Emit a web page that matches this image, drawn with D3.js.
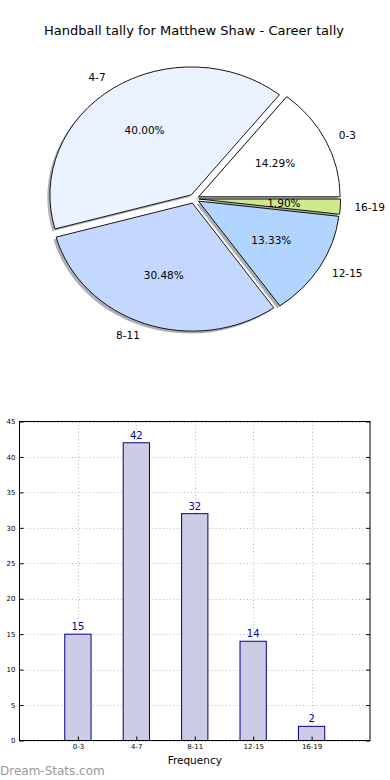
<!DOCTYPE html>
<html><head><meta charset="utf-8">
<script src="https://cdn.jsdelivr.net/npm/d3@7"></script>
<style>
body{margin:0;background:#fff;}
svg{display:block;font-family:"DejaVu Sans",sans-serif;}
</style></head><body>
<svg id="c" width="390" height="780"></svg>
<script>
const categories = ["0-3","4-7","8-11","12-15","16-19"];
const values = [15,42,32,14,2];
const pieColors = ["#ffffff","#eaf1ff","#c4d8ff","#b2d5ff","#cde98a"];
const yTicks = [0,5,10,15,20,25,30,35,40,45];
const title = "Handball tally for Matthew Shaw - Career tally";
const xLabel = "Frequency";
const watermark = "Dream-Stats.com";

const svg = d3.select("#c");
svg.append("rect").attr("width",390).attr("height",780).attr("fill","#fff");

svg.append("text").attr("x",194).attr("y",34.5).attr("text-anchor","middle")
  .attr("font-size",13).attr("fill","#000").text(title);

// ---- Pie ----
const cx = 194.1, cy = 198.75, rx = 141.4, ry = 128;
const explode = 0.036;
const total = d3.sum(values);
const pie = d3.pie().sort(null).startAngle(Math.PI/2).endAngle(Math.PI/2 - 2*Math.PI);
const arcs = pie(values);
const arc = d3.arc().innerRadius(0).outerRadius(1);
function mid(d){ const a=(d.startAngle+d.endAngle)/2; return {x:Math.sin(a), y:-Math.cos(a)}; }
function center(d){ const m=mid(d); return {x:cx+explode*rx*m.x, y:cy+explode*ry*m.y}; }

const shadowG = svg.append("g");
arcs.forEach((d,i)=>{
  const c = center(d);
  const col = d3.rgb(pieColors[i]);
  shadowG.append("path")
    .attr("transform",`translate(${c.x-2.6},${c.y+2.4}) scale(${rx},${ry})`)
    .attr("d",arc(d))
    .attr("fill",d3.rgb(col.r*0.3,col.g*0.3,col.b*0.3))
    .attr("fill-opacity",0.42);
});
const wedgeG = svg.append("g");
arcs.forEach((d,i)=>{
  const c = center(d);
  wedgeG.append("path")
    .attr("transform",`translate(${c.x},${c.y}) scale(${rx},${ry})`)
    .attr("d",arc(d))
    .attr("fill",pieColors[i])
    .attr("stroke","#000").attr("stroke-width",0.9)
    .attr("vector-effect","non-scaling-stroke");
});
arcs.forEach((d,i)=>{
  const c = center(d), m = mid(d);
  const lx = c.x + 1.1*rx*m.x, ly = c.y + 1.1*ry*m.y;
  svg.append("text").attr("x",lx).attr("y",ly).attr("dy","0.35em")
    .attr("text-anchor", m.x>0 ? "start":"end")
    .attr("font-size",10.5).attr("fill","#000").text(categories[i]);
  const px = c.x + 0.6*rx*m.x, py = c.y + 0.6*ry*m.y;
  svg.append("text").attr("x",px).attr("y",py).attr("dy","0.35em")
    .attr("text-anchor","middle")
    .attr("font-size",10.5).attr("fill","#000")
    .text((values[i]/total*100).toFixed(2)+"%");
});

// ---- Bar chart ----
const L=19.5, R=370, T=421.5, B=740.5;
const x = d3.scaleLinear().domain([-1,5]).range([L,R]);
const y = d3.scaleLinear().domain([0,45]).range([B,T]);
const bw = x(0.45)-x(0);
const idx = categories.map((c,i)=>i);

const grid = svg.append("g").attr("stroke","#bbbbbb").attr("stroke-width",1).attr("stroke-dasharray","1,2.5");
yTicks.forEach(t=>{ grid.append("line").attr("x1",L).attr("x2",R).attr("y1",Math.round(y(t))+0.5).attr("y2",Math.round(y(t))+0.5); });
idx.forEach(i=>{ grid.append("line").attr("x1",Math.round(x(i))+0.5).attr("x2",Math.round(x(i))+0.5).attr("y1",T).attr("y2",B); });

svg.append("g").selectAll("rect").data(values).join("rect")
  .attr("x",(d,i)=>x(i)-bw/2).attr("y",d=>y(d)).attr("width",bw).attr("height",d=>B-y(d))
  .attr("fill","#ccccE6").attr("stroke","#000080").attr("stroke-width",1);

svg.append("g").selectAll("text").data(values).join("text")
  .attr("x",(d,i)=>x(i)).attr("y",d=>y(d)-4).attr("text-anchor","middle")
  .attr("font-size",10).attr("fill","#0000a0").text(d=>d);

const yAxis = svg.append("g").attr("transform",`translate(${L},0)`)
  .call(d3.axisLeft(y).tickValues(yTicks).tickSize(-4).tickPadding(4));
yAxis.select(".domain").remove();
yAxis.selectAll("line").attr("stroke","#000");
yAxis.selectAll("text").attr("font-size",7).attr("font-family","DejaVu Sans").attr("fill","#000");

const yAxisR = svg.append("g").attr("transform",`translate(${R},0)`)
  .call(d3.axisRight(y).tickValues(yTicks).tickSize(-4).tickFormat(""));
yAxisR.select(".domain").remove();
yAxisR.selectAll("line").attr("stroke","#000");

const xAxis = svg.append("g").attr("transform",`translate(0,${B})`)
  .call(d3.axisBottom(x).tickValues(idx).tickSize(-4).tickPadding(4).tickFormat(i=>categories[i]));
xAxis.select(".domain").remove();
xAxis.selectAll("line").attr("stroke","#000");
xAxis.selectAll("text").attr("font-size",7).attr("font-family","DejaVu Sans").attr("fill","#000");

svg.append("rect").attr("x",L).attr("y",T).attr("width",R-L).attr("height",B-T)
  .attr("fill","none").attr("stroke","#000").attr("stroke-width",1);

svg.append("text").attr("x",(L+R)/2).attr("y",764).attr("text-anchor","middle")
  .attr("font-size",10.5).attr("fill","#000").text(xLabel);

svg.append("text").attr("x",0).attr("y",775).attr("font-size",12)
  .attr("fill","#999").text(watermark);
</script>
</body></html>
